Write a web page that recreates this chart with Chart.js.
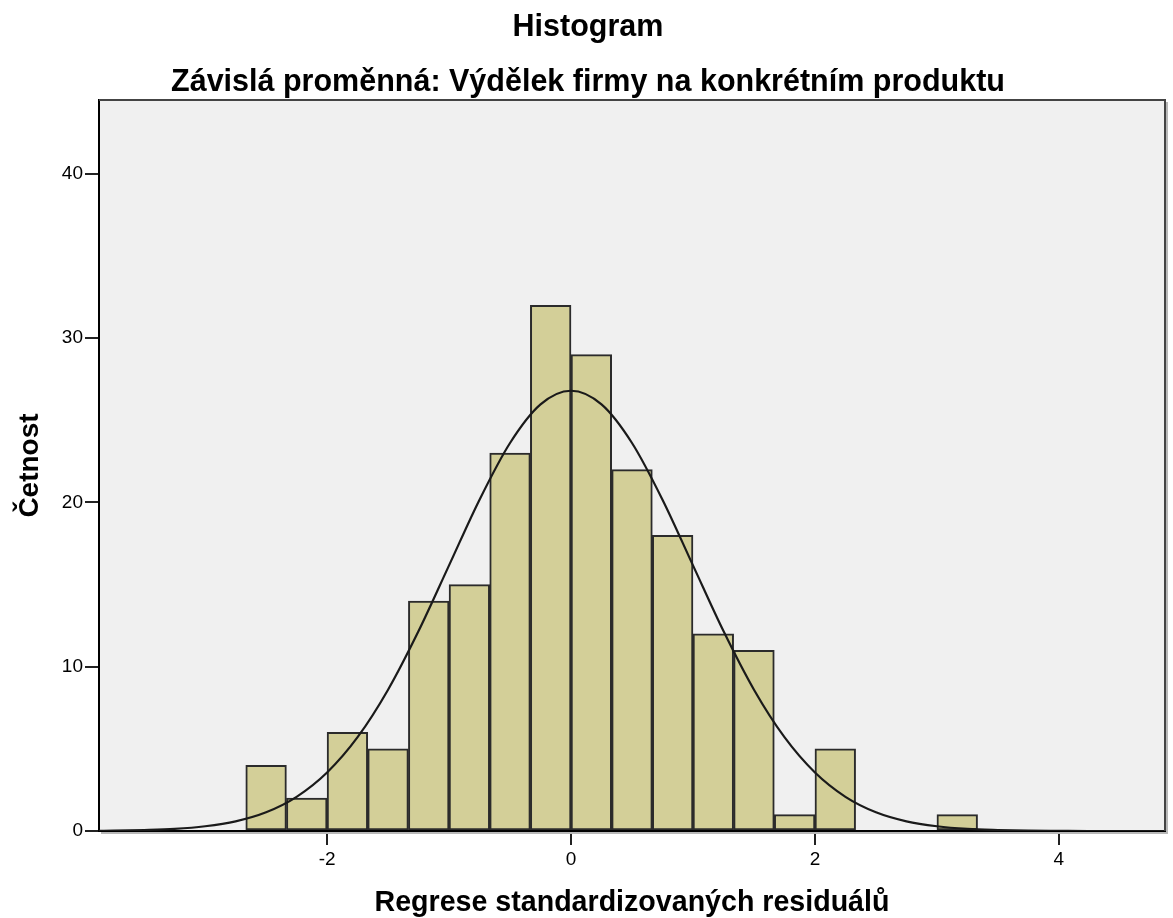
<!DOCTYPE html>
<html>

<head>
  <meta charset="utf-8">
  <title>Histogram</title>
  <script src="https://cdn.jsdelivr.net/npm/chart.js@4/dist/chart.umd.min.js"></script>
  <style>
    html, body { margin: 0; padding: 0; background: #fff; }
  </style>
</head>

<body>
  <div style="position: absolute; left: 0; top: 0; width: 1173px; height: 918px;">
    <canvas id="chart" width="1173" height="918"></canvas>
  </div>
</body>

</html>

<script>
  // bins (centre of each 1/3-wide bin) and counts
  const binCenters = [-2.5, -2.1667, -1.8333, -1.5, -1.1667, -0.8333, -0.5, -0.1667,
    0.1667, 0.5, 0.8333, 1.1667, 1.5, 1.8333, 2.1667, 2.5, 2.8333, 3.1667];
  const counts = [4, 2, 6, 5, 14, 15, 23, 32, 29, 22, 18, 12, 11, 1, 5, 0, 0, 1];

  // normal curve, read at 0.25 steps
  const curveX = [-3.87, -3.75, -3.5, -3.25, -3, -2.75, -2.5, -2.25, -2, -1.75, -1.5, -1.25, -1,
    -0.75, -0.5, -0.25, 0, 0.25, 0.5, 0.75, 1, 1.25, 1.5, 1.75, 2, 2.25, 2.5, 2.75, 3,
    3.25, 3.5, 3.75, 4, 4.25, 4.5, 4.87];
  const curveY = [0.01, 0.02, 0.06, 0.13, 0.29, 0.59, 1.14, 2.08, 3.56, 5.71, 8.6, 12.17, 16.17,
    20.17, 23.62, 25.97, 26.8, 25.97, 23.62, 20.17, 16.17, 12.17, 8.6, 5.71, 3.56, 2.08, 1.14,
    0.59, 0.29, 0.13, 0.06, 0.02, 0.01, 0, 0, 0];

  const xTicks = [-2, 0, 2, 4];
  const yTicks = [0, 10, 20, 30, 40];

  Chart.defaults.font.family = "'Liberation Sans', Arial, sans-serif";
  Chart.defaults.color = '#000';

  const plotBackground = {
    id: 'plotBackground',
    beforeDraw(chart) {
      const a = chart.chartArea;
      const ctx = chart.ctx;
      ctx.save();
      ctx.fillStyle = '#f0f0f0';
      ctx.fillRect(a.left, a.top, a.right - a.left, a.bottom - a.top);
      ctx.restore();
    },
    afterDraw(chart) {
      const a = chart.chartArea;
      const ctx = chart.ctx;
      ctx.save();
      // soft shadow then dark frame
      ctx.strokeStyle = '#b8b8b8';
      ctx.lineWidth = 2;
      ctx.beginPath();
      ctx.moveTo(a.left + 2, a.bottom + 2);
      ctx.lineTo(a.right + 2, a.bottom + 2);
      ctx.lineTo(a.right + 2, a.top + 2);
      ctx.stroke();
      ctx.strokeStyle = '#444';
      ctx.beginPath();
      ctx.moveTo(a.left, a.top);
      ctx.lineTo(a.right, a.top);
      ctx.lineTo(a.right, a.bottom);
      ctx.stroke();
      ctx.restore();
    }
  };

  const data = {
    datasets: [{
      type: 'line',
      data: curveX.map((x, i) => ({ x: x, y: curveY[i] })),
      borderColor: '#1a1a1a',
      borderWidth: 2.2,
      pointRadius: 0,
      cubicInterpolationMode: 'monotone',
      fill: false,
      order: 0,
    }, {
      type: 'bar',
      data: binCenters.map((x, i) => ({ x: x, y: counts[i] || null })),
      backgroundColor: '#d3cf98',
      borderColor: '#2b2b2b',
      borderWidth: 2,
      borderSkipped: false,
      barPercentage: 1,
      categoryPercentage: 1,
      order: 1,
    }]
  };

  const options = {
    responsive: false,
    animation: false,
    events: [],
    layout: { padding: { left: 11, right: 8, top: 0, bottom: 0 } },
    plugins: {
      legend: { display: false },
      tooltip: { enabled: false },
      title: {
        display: true,
        text: 'Histogram',
        font: { size: 30.5, weight: 'bold', lineHeight: 1.2 },
        padding: { top: 9.7, bottom: 21.45 },
      },
      subtitle: {
        display: true,
        text: 'Závislá proměnná: Výdělek firmy na konkrétním produktu',
        color: '#000',
        font: { size: 30.5, weight: 'bold', lineHeight: 1 },
        padding: { top: 0, bottom: 1.75 },
      },
    },
    scales: {
      x: {
        type: 'linear',
        min: -3.87,
        max: 4.87,
        offset: false,
        afterBuildTicks: (s) => { s.ticks = xTicks.map(v => ({ value: v })); },
        afterFit: (s) => { s.height = 87; },
        grid: { offset: false, drawOnChartArea: false, drawTicks: true, tickLength: 14, color: '#222', lineWidth: 2 },
        border: { display: true, color: '#000', width: 2 },
        ticks: { font: { size: 19 }, padding: 3, maxRotation: 0, color: '#000' },
        title: {
          display: true,
          text: 'Regrese standardizovaných residuálů',
          font: { size: 28.6, weight: 'bold', lineHeight: 1 },
          padding: { top: 0, bottom: 1 },
        },
      },
      y: {
        type: 'linear',
        min: 0,
        max: 44.5,
        afterBuildTicks: (s) => { s.ticks = yTicks.map(v => ({ value: v })); },
        afterFit: (s) => { s.width = 88; },
        grid: { drawOnChartArea: false, drawTicks: true, tickLength: 14, color: '#222', lineWidth: 2 },
        border: { display: true, color: '#000', width: 2 },
        ticks: { font: { size: 19 }, padding: 2, color: '#000' },
        title: {
          display: true,
          text: 'Četnost',
          font: { size: 28, weight: 'bold', lineHeight: 1 },
          padding: { top: 5, bottom: 0 },
        },
      },
    },
  };

  const chart = new Chart(document.getElementById('chart'), {
    type: 'bar',
    data: data,
    options: options,
    plugins: [plotBackground],
  });
</script>
